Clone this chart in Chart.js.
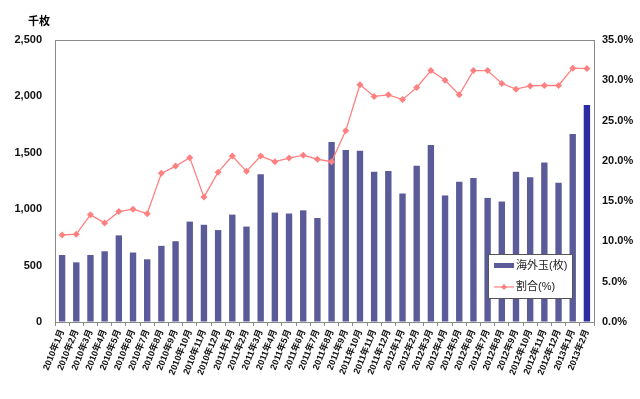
<!DOCTYPE html>
<html>
<head>
<meta charset="utf-8">
<script src="https://cdn.jsdelivr.net/npm/chart.js@4/dist/chart.umd.min.js"></script>
<style>
  html, body { margin: 0; padding: 0; background: #fff; }
  canvas { display: block; }
</style>
</head>
<body>
<canvas id="chart" width="640" height="399"></canvas>
<script>
// months 2010/1 .. 2013/2
const years = [2010, 2011, 2012, 2013]
const months = [1,2,3,4,5,6,7,8,9,10,11,12]
const labels = []
years.forEach(y => months.forEach(m => {
  if (y < 2013 || m <= 2) labels.push(y + "年" + m + "月")
}))

// 海外玉 (千枚)
const kaigaiGyoku = [594, 529, 594, 627, 768, 616, 556, 675, 716, 890, 862, 815, 952, 846, 1309, 970, 962, 990, 922, 1595,
  1525, 1518, 1332, 1338, 1140, 1386, 1570, 1122, 1244, 1276, 1100, 1068, 1333, 1283, 1415, 1234, 1667, 1924]
// 割合 (%)
const wariai = [10.8, 10.9, 13.3, 12.3, 13.7, 14.0, 13.45, 18.45, 19.35, 20.4, 15.5, 18.6, 20.6, 18.7, 20.6, 19.9, 20.35, 20.7, 20.2, 19.9,
  23.75, 29.45, 28.0, 28.2, 27.6, 29.1, 31.2, 30.0, 28.2, 31.2, 31.2, 29.6, 28.9, 29.3, 29.35, 29.35, 31.5, 31.45]

const unitLabel = "千枚"
const barLabel = "海外玉(枚)"
const lineLabel = "割合(%)"

const barColor = "#5b5b9a"
const lastBarColor = "#2c2ca2"
const lineColor = "#ff8080"
const fontFamily = "'Liberation Sans', 'Noto Sans CJK JP', sans-serif"

// border box around plot, unit text and the legend inside the plot
const extras = {
  id: "extras",
  afterDatasetsDraw(chart) {
    const ctx = chart.ctx
    const a = chart.chartArea
    ctx.save()
    ctx.strokeStyle = "#888"
    ctx.lineWidth = 1
    ctx.strokeRect(Math.round(a.left) + 0.5, Math.round(a.top) + 0.5, Math.round(a.right - a.left), Math.round(a.bottom - a.top))

    ctx.fillStyle = "#000"
    ctx.font = "bold 11px " + fontFamily
    ctx.textAlign = "center"
    ctx.textBaseline = "middle"
    ctx.fillText(unitLabel, 39, 22)

    // legend box
    const lx = 488, ly = 254, lw = 84, lh = 44
    ctx.fillStyle = "#fff"
    ctx.fillRect(lx, ly, lw, lh)
    ctx.strokeStyle = "#555"
    ctx.strokeRect(lx + 0.5, ly + 0.5, lw, lh)

    ctx.fillStyle = barColor
    ctx.fillRect(494, 263, 20, 5)
    ctx.strokeStyle = lineColor
    ctx.lineWidth = 1.2
    ctx.beginPath()
    ctx.moveTo(494, 287)
    ctx.lineTo(514, 287)
    ctx.stroke()
    ctx.fillStyle = lineColor
    ctx.beginPath()
    ctx.moveTo(504, 284); ctx.lineTo(507, 287); ctx.lineTo(504, 290); ctx.lineTo(501, 287)
    ctx.closePath()
    ctx.fill()

    ctx.fillStyle = "#222"
    ctx.font = "11px " + fontFamily
    ctx.textAlign = "left"
    ctx.fillText(barLabel, 516, 266)
    ctx.fillText(lineLabel, 516, 287)
    ctx.restore()
  }
}

const tickFont = { family: fontFamily, size: 11, weight: "bold" }

new Chart(document.getElementById("chart"), {
  type: "bar",
  data: {
    labels: labels,
    datasets: [
      {
        type: "line",
        label: lineLabel,
        data: wariai,
        yAxisID: "y1",
        borderColor: lineColor,
        backgroundColor: lineColor,
        borderWidth: 1.3,
        pointStyle: "rectRot",
        pointRadius: 3.5,
        pointBorderWidth: 0,
        tension: 0,
        order: 0
      },
      {
        label: barLabel,
        data: kaigaiGyoku,
        yAxisID: "y",
        backgroundColor: kaigaiGyoku.map((v, i) => i === kaigaiGyoku.length - 1 ? lastBarColor : barColor),
        categoryPercentage: 1,
        barPercentage: 0.45,
        order: 1
      }
    ]
  },
  options: {
    responsive: false,
    animation: false,
    layout: { padding: { top: 40, left: 0, right: 0, bottom: 0 } },
    plugins: { legend: { display: false }, tooltip: { enabled: false } },
    scales: {
      x: {
        grid: { drawOnChartArea: false, tickLength: 4, color: "#888", offset: true },
        border: { color: "#888" },
        ticks: {
          font: { family: fontFamily, size: 9, weight: "bold" },
          color: "#111",
          minRotation: 68,
          maxRotation: 68,
          autoSkip: false,
          padding: 2
        },
        afterFit(scale) { scale.height = 77 }
      },
      y: {
        position: "left",
        min: 0,
        max: 2500,
        grid: { drawOnChartArea: false, drawTicks: false },
        border: { color: "#888" },
        ticks: {
          stepSize: 500,
          font: tickFont,
          color: "#111",
          padding: 13,
          callback: v => v.toLocaleString("en-US")
        },
        afterFit(scale) { scale.width = 55 }
      },
      y1: {
        position: "right",
        min: 0,
        max: 35,
        grid: { drawOnChartArea: false, drawTicks: false },
        border: { color: "#888" },
        ticks: {
          stepSize: 5,
          font: tickFont,
          color: "#111",
          padding: 8,
          callback: v => v.toFixed(1) + "%"
        },
        afterFit(scale) { scale.width = 46 }
      }
    }
  },
  plugins: [extras]
})
</script>
</body>
</html>
